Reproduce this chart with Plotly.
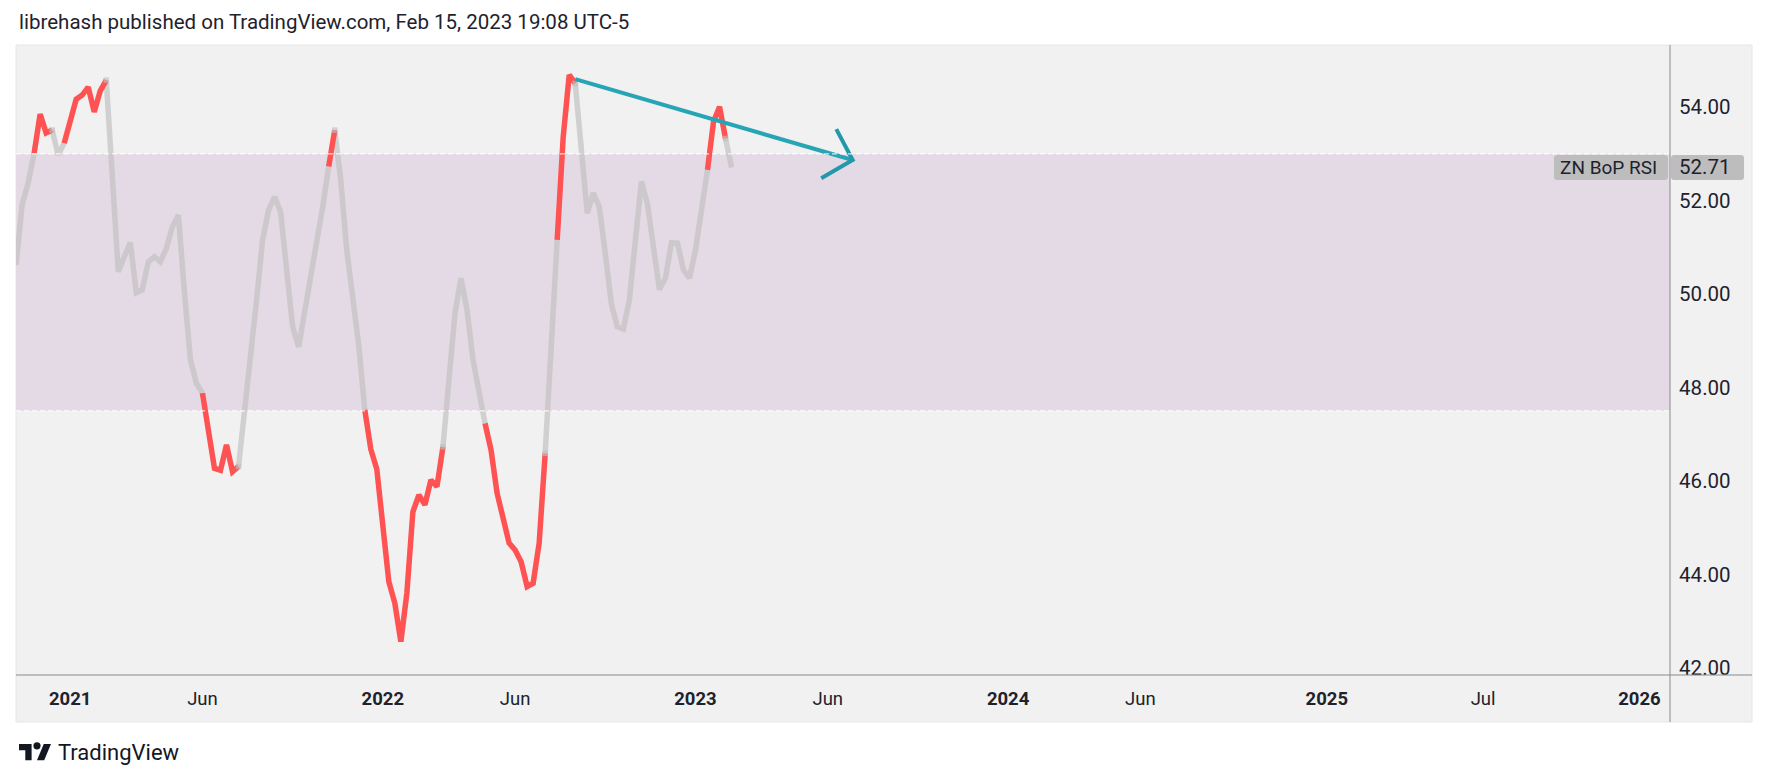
import plotly.graph_objects as go
import pandas as pd

# ---------------- data ----------------
start_date = "2020-11-02"          # weekly bars (Mondays)
rsi = [50.62, 51.91, 52.37, 53.01, 53.85, 53.45, 53.51, 52.98, 53.23, 53.69,
       54.17, 54.26, 54.43, 53.90, 54.35, 54.58, 52.58, 50.48, 50.80, 51.10,
       50.03, 50.09, 50.69, 50.80, 50.69, 50.98, 51.44, 51.69, 50.04, 48.59,
       48.09, 47.88, 46.99, 46.27, 46.23, 46.77, 46.20, 46.31, 47.45, 48.52,
       49.87, 51.16, 51.80, 52.08, 51.76, 50.52, 49.30, 48.87, 49.59, 50.30,
       51.09, 51.87, 52.73, 53.51, 52.44, 50.94, 50.00, 48.90, 47.52, 46.68,
       46.25, 44.91, 43.84, 43.38, 42.56, 43.60, 45.34, 45.70, 45.49, 46.02,
       45.88, 46.73, 48.23, 49.59, 50.34, 49.66, 48.59, 47.88, 47.23, 46.66,
       45.74, 45.16, 44.67, 44.52, 44.27, 43.74, 43.81, 44.67, 46.59, 48.85,
       51.16, 53.37, 54.69, 54.51, 53.08, 51.73, 52.16, 51.87, 50.87, 49.80,
       49.30, 49.25, 49.87, 51.30, 52.41, 51.94, 50.94, 50.10, 50.34, 51.10,
       51.09, 50.52, 50.34, 50.94, 51.80, 52.66, 53.69, 54.01, 53.33, 52.71]
# bar state: 'r' = red, 'g' = grey (colours the segment starting at that bar)
state = ("gggrrrggrrrrrrrg" + "g" * 15 + "rrrrrr" + "g" * 15 + "r" + "g" * 5 +
         "r" * 13 + "g" * 7 + "r" * 10 + "gg" + "rrr" + "g" * 22 + "rrr" + "gg")
band_low, band_high = 47.5, 53.0
last_label = "ZN BoP RSI"
last_value = 52.71

arrow_x = ["2022-08-15", "2023-07-04"]
arrow_y = [54.60, 52.87]
head_x = ["2023-06-14 22:00", "2023-07-04", "2023-05-28 10:00"]
head_y = [53.53, 52.87, 52.48]

tick_dates = ["2021-01-04", "2021-06-07", "2022-01-03", "2022-06-06", "2023-01-02",
              "2023-06-05", "2024-01-01", "2024-06-03", "2025-01-06", "2025-07-07",
              "2026-01-05"]
tick_text = ["<b>2021</b>", "Jun", "<b>2022</b>", "Jun", "<b>2023</b>", "Jun",
             "<b>2024</b>", "Jun", "<b>2025</b>", "Jul", "<b>2026</b>"]
y_ticks = [42, 44, 46, 48, 50, 52, 54]

header = "librehash published on TradingView.com, Feb 15, 2023 19:08 UTC-5"

# ---------------- build ----------------
dates = pd.date_range(start_date, periods=len(rsi), freq="7D")

RED = "#FF5252"
GREY = "rgba(190,190,190,0.65)"
TEAL = "#27A5B5"
TXT = "#1E222D"
FONT = "Roboto, sans-serif"

OFF = 8  # page body margin
W, H = 1769 - OFF, 783 - OFF
L, R, T, B = 16 - OFF, 1670 - OFF, 46 - OFF, 675 - OFF


def pp(px, py):
    """reference-pixel position -> paper coordinates"""
    px -= OFF
    py -= OFF
    return (px - L) / (R - L), (B - py) / (B - T)


def runs(col):
    xs, ys = [], []
    i = 0
    n = len(rsi) - 1
    while i < n:
        if state[i] == col:
            j = i
            while j < n and state[j] == col:
                j += 1
            for k in range(i, j + 1):
                xs.append(dates[k]); ys.append(rsi[k])
            xs.append(None); ys.append(None)
            i = j
        else:
            i += 1
    return xs, ys


fig = go.Figure()
gx, gy = runs("g")
rx, ry = runs("r")
fig.add_trace(go.Scatter(x=gx, y=gy, mode="lines", line=dict(color=GREY, width=5.5),
                         hoverinfo="skip", showlegend=False))
fig.add_trace(go.Scatter(x=rx, y=ry, mode="lines", line=dict(color=RED, width=5.5),
                         hoverinfo="skip", showlegend=False))
# red -> grey joints
jx = [dates[i] for i in range(1, len(rsi) - 1) if state[i - 1] == "r" and state[i] == "g"]
jy = [rsi[i] for i in range(1, len(rsi) - 1) if state[i - 1] == "r" and state[i] == "g"]
fig.add_trace(go.Scatter(x=jx, y=jy, mode="markers",
                         marker=dict(symbol="square", size=5.5, color=GREY, line=dict(width=0)),
                         hoverinfo="skip", showlegend=False))
# arrow drawing
fig.add_trace(go.Scatter(x=arrow_x, y=arrow_y, mode="lines",
                         line=dict(color=TEAL, width=4), hoverinfo="skip", showlegend=False))
fig.add_trace(go.Scatter(x=head_x, y=head_y, mode="lines",
                         line=dict(color="#2398AA", width=4), hoverinfo="skip", showlegend=False))

shapes = []
# panel background
x0, y0 = pp(16, 722)
x1, y1 = pp(1752, 45)
shapes.append(dict(type="rect", xref="paper", yref="paper", x0=x0, y0=y0, x1=x1, y1=y1,
                   fillcolor="#F1F1F1", line=dict(color="#E6E6EC", width=1), layer="below"))
# band
shapes.append(dict(type="rect", xref="paper", yref="y", x0=0, x1=1, y0=band_low, y1=band_high,
                   fillcolor="#E4DAE5", line=dict(width=0), layer="below"))
for lv in (band_low, band_high):
    shapes.append(dict(type="line", xref="paper", yref="y", x0=0, x1=1, y0=lv, y1=lv,
                       line=dict(color="white", width=1, dash="5px,3px"), layer="above"))
# axis lines
ax0, ay0 = pp(1670, 722)
ax1, ay1 = pp(1670, 45)
shapes.append(dict(type="line", xref="paper", yref="paper", x0=ax0, x1=ax1, y0=ay0, y1=ay1,
                   line=dict(color="#8A8A8A", width=1), layer="above"))
bx0, by0 = pp(16, 675)
bx1, _ = pp(1752, 675)
shapes.append(dict(type="line", xref="paper", yref="paper", x0=bx0, x1=bx1, y0=by0, y1=by0,
                   line=dict(color="#8A8A8A", width=1), layer="above"))


def rounded(px0, py0, px1, py1, r):
    def P(x, y):
        a, b = pp(x, y)
        return f"{a:.6f},{b:.6f}"
    return ("M " + P(px0 + r, py0) + " L " + P(px1 - r, py0) + " Q " + P(px1, py0) + " " + P(px1, py0 + r) +
            " L " + P(px1, py1 - r) + " Q " + P(px1, py1) + " " + P(px1 - r, py1) +
            " L " + P(px0 + r, py1) + " Q " + P(px0, py1) + " " + P(px0, py1 - r) +
            " L " + P(px0, py0 + r) + " Q " + P(px0, py0) + " " + P(px0 + r, py0) + " Z")


shapes.append(dict(type="path", xref="paper", yref="paper", path=rounded(1554, 155, 1668, 180, 3),
                   fillcolor="#BDBDBD", line=dict(width=0), layer="above"))
shapes.append(dict(type="path", xref="paper", yref="paper", path=rounded(1671, 155, 1744, 180, 3),
                   fillcolor="#BDBDBD", line=dict(width=0), layer="above"))


# TradingView logo (36x28 view box)
def logo_pt(X, Y):
    a, b = pp(19 + 0.9 * X, 740.4 + 0.9 * Y)
    return f"{a:.6f},{b:.6f}"


p1 = ("M " + logo_pt(14, 22) + " L " + logo_pt(7, 22) + " L " + logo_pt(7, 11) + " L " + logo_pt(0, 11) +
      " L " + logo_pt(0, 4) + " L " + logo_pt(14, 4) + " Z")
p2 = ("M " + logo_pt(28, 22) + " L " + logo_pt(20, 22) + " L " + logo_pt(27.5, 4) + " L " + logo_pt(35.5, 4) + " Z")
shapes.append(dict(type="path", xref="paper", yref="paper", path=p1, fillcolor="#131722", line=dict(width=0)))
shapes.append(dict(type="path", xref="paper", yref="paper", path=p2, fillcolor="#131722", line=dict(width=0)))
cx0, cy0 = pp(19 + 0.9 * 16, 740.4 + 0.9 * 10)
cx1, cy1 = pp(19 + 0.9 * 24, 740.4 + 0.9 * 2)
shapes.append(dict(type="circle", xref="paper", yref="paper", x0=cx0, y0=cy0, x1=cx1, y1=cy1,
                   fillcolor="#131722", line=dict(width=0)))

annotations = []
hx, hy = pp(17, 22)
annotations.append(dict(text=header, xref="paper", yref="paper", x=hx, y=hy, xanchor="left",
                        yanchor="middle", showarrow=False, font=dict(family=FONT, size=20.5, color=TXT)))
tx, ty = pp(56, 752)
annotations.append(dict(text="TradingView", xref="paper", yref="paper", x=tx, y=ty, xanchor="left",
                        yanchor="middle", showarrow=False, font=dict(family=FONT, size=22, color="#131722")))
lx, _ = pp(1659, 0)
annotations.append(dict(text=last_label, xref="paper", yref="y", x=lx, y=last_value, xanchor="right",
                        yanchor="middle", showarrow=False, font=dict(family=FONT, size=19, color=TXT)))
vx, _ = pp(1733, 0)
annotations.append(dict(text=f"{last_value:.2f}", xref="paper", yref="y", x=vx, y=last_value,
                        xanchor="right", yanchor="middle", showarrow=False,
                        font=dict(family=FONT, size=20.5, color=TXT)))

fig.update_layout(
    width=W, height=H,
    margin=dict(l=L, r=W - R, t=T, b=H - B, pad=0),
    paper_bgcolor="white", plot_bgcolor="#F1F1F1",
    showlegend=False, hovermode=False,
    shapes=shapes, annotations=annotations,
    xaxis=dict(type="date", range=["2020-11-01 22:00", "2026-02-09 14:00"],
               tickvals=tick_dates, ticktext=tick_text, showgrid=False, zeroline=False,
               showline=False, ticks="outside", ticklen=7, tickcolor="rgba(0,0,0,0)",
               tickfont=dict(family=FONT, size=18.5, color=TXT)),
    yaxis=dict(range=[41.846, 55.31], side="right", tickvals=y_ticks, tickformat=".2f",
               showgrid=False, zeroline=False, showline=False, ticks="outside", ticklen=4,
               tickcolor="rgba(0,0,0,0)", tickfont=dict(family=FONT, size=20.5, color=TXT)),
)

fig.write_html("out.html")
